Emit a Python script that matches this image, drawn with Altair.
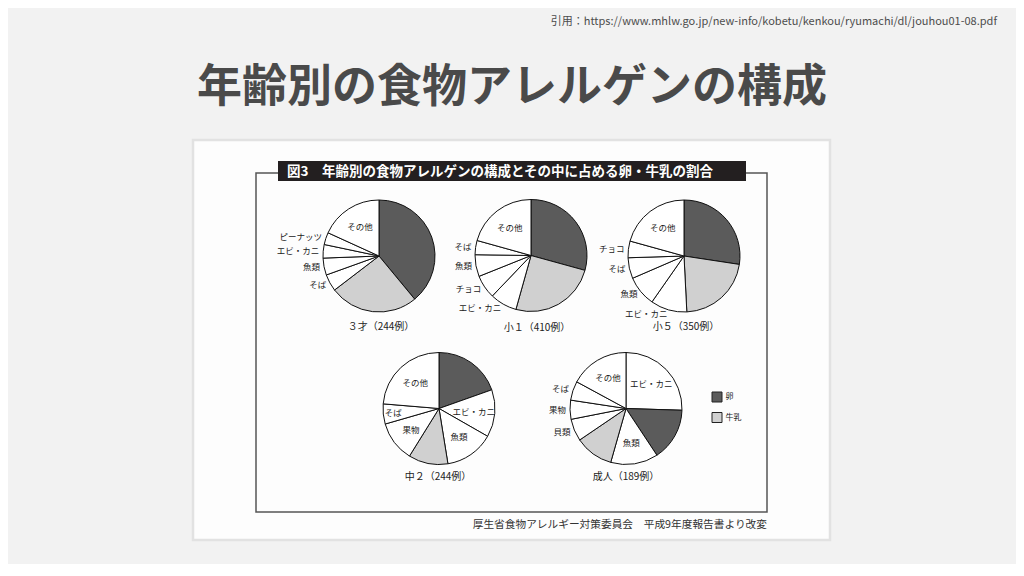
import altair as alt
import pandas as pd

FONT = "Noto Sans CJK JP"

# ---------------- data (% of cases, clockwise from 12 o'clock) ----------------
PIES = ["3才", "小1", "小5", "中2", "成人"]
CAPTIONS = ["３才（244例）", "小１（410例）", "小５（350例）", "中２（244例）", "成人（189例）"]

CATS_3 = ["卵", "牛乳", "そば", "魚類", "エビ・カニ", "ピーナッツ", "その他"]
VALS_3 = [39.0, 25.6, 4.9, 4.9, 3.9, 3.5, 18.2]

CATS_S1 = ["卵", "牛乳", "エビ・カニ", "チョコ", "魚類", "そば", "その他"]
VALS_S1 = [29.3, 25.1, 7.8, 6.8, 6.3, 4.1, 20.7]

CATS_S5 = ["卵", "牛乳", "エビ・カニ", "魚類", "そば", "チョコ", "その他"]
VALS_S5 = [27.4, 21.8, 10.5, 8.8, 6.0, 4.8, 20.7]

CATS_C2 = ["卵", "エビ・カニ", "魚類", "牛乳", "果物", "そば", "その他"]
VALS_C2 = [19.6, 13.7, 14.2, 11.4, 11.7, 5.8, 23.7]

CATS_AD = ["エビ・カニ", "卵", "魚類", "牛乳", "貝類", "果物", "そば", "その他"]
VALS_AD = [25.5, 15.2, 13.7, 11.1, 6.4, 5.5, 5.5, 17.1]

SERIES = {
    "3才": (CATS_3, VALS_3),
    "小1": (CATS_S1, VALS_S1),
    "小5": (CATS_S5, VALS_S5),
    "中2": (CATS_C2, VALS_C2),
    "成人": (CATS_AD, VALS_AD),
}

LEGEND_KEYS = ["卵", "牛乳"]

# ---------------- layout (page pixels) ----------------
OFF = 8
CENTERS = {"3才": (379, 256), "小1": (531, 255.5), "小5": (684, 256),
           "中2": (439, 408.5), "成人": (626, 408.5)}
CAPTION_POS = {"3才": (381, 327), "小1": (537, 327.5), "小5": (686, 327),
               "中2": (438, 477), "成人": (626, 477)}
INSIDE = {"3才": ["その他"], "小1": ["その他"], "小5": ["その他"],
          "中2": ["エビ・カニ", "魚類", "果物", "そば", "その他"],
          "成人": ["エビ・カニ", "魚類", "その他"]}
R = 56
NARROW = 0.08  # inside labels of slices narrower than this sit further out

ONE = pd.DataFrame({"a": [0]})


def X(v):
    return alt.value(v - OFF)


def rect(x1, y1, x2, y2, **kw):
    return alt.Chart(ONE).mark_rect(**kw).encode(x=X(x1), x2=X(x2), y=X(y1), y2=X(y2))


def text(x, y, s, **kw):
    base = dict(font=FONT, baseline="middle")
    base.update(kw)
    return alt.Chart(ONE).mark_text(text=s, **base).encode(x=X(x), y=X(y))


fill = alt.Fill(
    "kind:N",
    scale=alt.Scale(domain=["卵", "牛乳", "他"], range=["#5b5b5b", "#d0d0d0", "#ffffff"]),
    legend=alt.Legend(
        orient="none", legendX=711.5 - OFF, legendY=391.5 - OFF, values=LEGEND_KEYS,
        title=None, symbolType="square", symbolSize=100, symbolStrokeColor="#222",
        symbolStrokeWidth=1, labelFont=FONT, labelFontSize=8,
        labelColor="#222", labelOffset=3, rowPadding=5.5, padding=0,
    ),
)
theta = alt.Theta("v:Q", stack="normalize", scale=alt.Scale(domain=[0, 1]))
order = alt.Order("idx:Q")

layers = []
# slide panel
layers.append(rect(193, 140, 830, 540, fill="#fdfdfd", stroke="#e2e2e2", strokeWidth=2.5))
# figure frame
layers.append(rect(256, 173, 767, 512, fillOpacity=0, stroke="#555555", strokeWidth=1.5))
# figure title bar
layers.append(rect(278, 161, 746, 181, fill="#231f20"))
layers.append(text(287, 171.5, "図3　年齢別の食物アレルゲンの構成とその中に占める卵・牛乳の割合",
                   align="left", fontSize=13.5, fontWeight="bold", color="#ffffff"))

for i, p in enumerate(PIES):
    cats, vals = SERIES[p]
    tot = sum(vals)
    kinds = [c if c in ("卵", "牛乳") else "他" for c in cats]
    fracs = [v / tot for v in vals]
    inside = [k == "他" and c in INSIDE[p] for c, k in zip(cats, kinds)]
    df = pd.DataFrame({
        "pie": p,
        "cat": cats,
        "v": vals,
        "idx": list(range(len(cats))),
        "kind": kinds,
        "inner": [c if (ins and f >= NARROW) else "" for c, ins, f in zip(cats, inside, fracs)],
        "innerfar": [c if (ins and f < NARROW) else "" for c, ins, f in zip(cats, inside, fracs)],
        "outer": [c if (k == "他" and not ins) else "" for c, k, ins in zip(cats, kinds, inside)],
    })
    cx, cy = CENTERS[p]
    pos = dict(x=X(cx), y=X(cy))
    arc = alt.Chart(df).mark_arc(radius=R, stroke="#111111", strokeWidth=1).encode(
        theta=theta, fill=fill, detail="cat:N", order=order, **pos)
    layers.append(arc)
    for field, rad, al in [("inner", 35, "center"), ("innerfar", 46, "center"),
                           ("outer", R + 4, "right")]:
        layers.append(
            alt.Chart(df).mark_text(font=FONT, fontSize=8.5, color="#1a1a1a", radius=rad,
                                    align=al, baseline="middle").encode(
                theta=theta, detail="cat:N", order=order, text=f"{field}:N", **pos)
        )
    tx, ty = CAPTION_POS[p]
    layers.append(text(tx, ty, CAPTIONS[i], align="center", fontSize=10, color="#222222"))

# source note inside the figure
layers.append(text(767, 525, "厚生省食物アレルギー対策委員会　平成9年度報告書より改変",
                   align="right", fontSize=10.7, color="#333333"))
# slide title
layers.append(text(512, 88, "年齢別の食物アレルゲンの構成", align="center", fontSize=45,
                   fontWeight="bold", color="#4a4a4a"))
# citation
layers.append(text(997, 22, "引用：https://www.mhlw.go.jp/new-info/kobetu/kenkou/ryumachi/dl/jouhou01-08.pdf",
                   align="right", fontSize=11, color="#4d4d4d"))

chart = alt.layer(*layers).properties(
    width=1008, height=556, autosize="none", padding=0, background="#f2f2f2"
).configure_view(stroke=None)

chart.save("out.html", embed_options={"renderer": "svg", "actions": False})
